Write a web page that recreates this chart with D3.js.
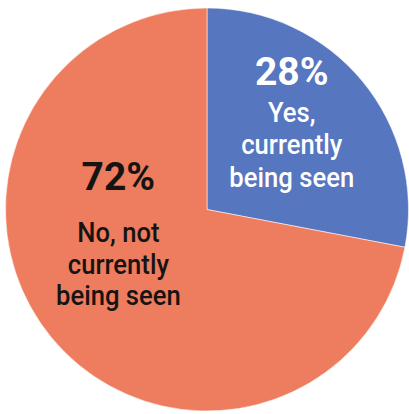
<!DOCTYPE html>
<html>
<head>
<meta charset="utf-8">
<script src="https://cdn.jsdelivr.net/npm/d3@7"></script>
<style>
  html, body { margin: 0; padding: 0; background: #ffffff; }
  svg { display: block; }
</style>
</head>
<body>
<svg id="chart" width="409" height="414"></svg>
<script>
// Survey answers, in drawing order (clockwise from 12 o'clock)
const categories = ["Yes, currently being seen", "No, not currently being seen"];
const shares = [28, 72];
const percentLabels = ["28%", "72%"];
const labelLines = [
  ["Yes,", "currently", "being seen"],
  ["No, not", "currently", "being seen"]
];
const sliceColors = ["#5676c0", "#ee7c5e"];
const textColors = ["#ffffff", "#161412"];

const cx = 207, cy = 209.5, radius = 201.5;

const svg = d3.select("#chart");
const g = svg.append("g").attr("transform", `translate(${cx},${cy})`);

const pie = d3.pie().sort(null).value(d => d);
const arcs = pie(shares);

const arc = d3.arc().innerRadius(0).outerRadius(radius);

g.selectAll("path.slice")
  .data(arcs)
  .join("path")
  .attr("class", "slice")
  .attr("d", arc)
  .attr("fill", (d, i) => sliceColors[i])
  .attr("stroke", "#ffffff")
  .attr("stroke-opacity", 0.55)
  .attr("stroke-width", 1);

// Label anchors sit on a ring inside each slice; each block is then
// nudged so the stacked lines fit the slice shape.
const labelRadius = [110, 115];
const blockLayout = [
  { pct: -54, first: -17.5, step: 32.5 },
  { pct: -93, first: -40.5, step: 31.5 }
];

const labels = g.selectAll("g.label")
  .data(arcs)
  .join("g")
  .attr("class", "label")
  .attr("transform", (d, i) => {
    const [x, y] = d3.arc().innerRadius(labelRadius[i]).outerRadius(labelRadius[i]).centroid(d);
    return `translate(${x},${y})`;
  });

labels.append("text")
  .attr("class", "pct")
  .attr("text-anchor", "middle")
  .attr("y", (d, i) => blockLayout[i].pct)
  .attr("font-family", "Roboto, 'Liberation Sans', sans-serif")
  .attr("font-weight", 700)
  .attr("font-size", 39)
  .attr("fill", (d, i) => textColors[i])
  .text((d, i) => percentLabels[i]);

// The category name is one text block, wrapped onto three lines
labels.append("text")
  .attr("class", "name")
  .attr("text-anchor", "middle")
  .attr("transform", (d, i) => `translate(0,${blockLayout[i].first}) scale(0.95,1)`)
  .attr("font-family", "Roboto, 'Liberation Sans', sans-serif")
  .attr("font-weight", 500)
  .attr("font-size", 27)
  .attr("fill", (d, i) => textColors[i])
  .each(function (d, i) {
    d3.select(this).selectAll("tspan")
      .data(labelLines[i])
      .join("tspan")
      .attr("x", 0)
      .attr("y", (t, j) => j * blockLayout[i].step)
      .text(t => t);
  });
</script>
</body>
</html>
